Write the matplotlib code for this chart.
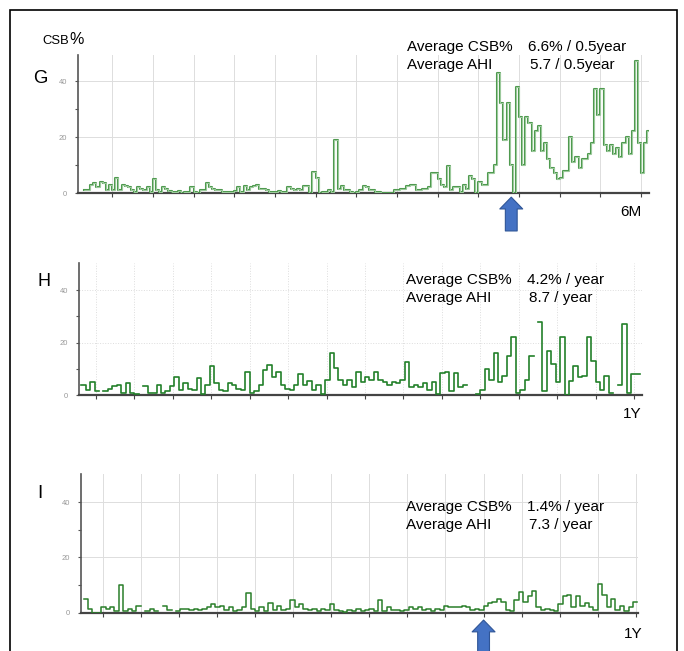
import numpy as np
import matplotlib.pyplot as plt
from matplotlib.patches import Rectangle

plt.rcParams['font.family'] = ['Liberation Sans', 'DejaVu Sans']

W, H = 684, 651
nan = np.nan

# G: daily CSB% over 6 months, first value = day 4
g_start = 4
g_csb = [1, 1, 3, 3.5, 2, 4, 3.5, 1, 3, 1,
         5.5, 1, 3, 2.5, 2, 1, 0.5, 2, 1.5, 1,
         2, 0.2, 5, 1, 0.5, 2, 1.5, 0.8, 0.5, 0.5,
         0.8, 0, 0.2, 0.2, 2, 0.3, 0, 1, 1, 3.5,
         2, 1.5, 1, 1, 0.3, 0.3, 0.3, 0.3, 0.8, 2,
         0.5, 2.5, 1, 2, 2.5, 3, 1.5, 1.5, 1, 0.5,
         0.3, 0.3, 0.8, 0.5, 0.5, 2, 1.5, 1, 1.5, 1,
         2.5, 2.5, 0, 7.5, 5.5, 0, 0.3, 0.3, 1, 0.5,
         19, 1.5, 2.5, 1, 1, 0.5, 0, 0.5, 1, 2.4,
         2, 1, 1, 0.3, 0.3, 0, 0, 0, 0, 1,
         1, 1.5, 1.5, 2.5, 3, 3, 1, 1, 1.5, 1.5,
         2, 7, 7, 5, 3, 2, 9.5, 1, 2, 2,
         0.5, 3, 1.5, 6, 5, 0, 4, 3, 3, 7,
         7, 10, 43, 32, 19, 32, 10, 0, 38, 27,
         10, 27, 25, 15, 22, 24, 15, 18, 12, 9,
         7, 5, 5.5, 8, 8, 20, 11, 13, 9, 12,
         12, 14, 18, 37, 28, 37, 17, 15, 17, 14,
         16, 13, 18, 20, 14, 22, 47, 18, 7, 18,
         22, 11]

# H: CSB% over 1 year, 3-day bins starting at day -10 (nan = no data)
h_start = -10
h_csb = [4, 2, 5, 1.5, nan, 1.5, 2.5, 3.5, 4, 1,
         4.5, 1, 0.5, nan, 3.5, 1, 1, 4, 1, 1.5,
         3.5, 7, 2, 4.5, 2.5, 2, 6.5, 0.5, 4, 11,
         4.5, 2, 1.5, 4.5, 4, 2.5, 2, 9, 1, 1.5,
         4, 9.5, 11.5, 7, 9, 4, 2.5, 2, 4, 8,
         4, 5.5, 2, 4, 0.5, 6, 16, 10.5, 6, 4,
         6, 3, 9, 5, 7, 6, 9, 6, 5, 4,
         5, 4.5, 6, 12.5, 3, 4, 3, 4.5, 2, 5,
         0.5, 8.5, 9, 1.5, 8.5, 3, 4, nan, nan, 0.5,
         2, 10, 6, 16, 5, 7.5, 15, 22, 1, 2,
         6, 15, nan, 28, 1.5, 17, 12, 5, 22, 0.3,
         5.5, 11, 7, 7.5, 22, 13, 5, 2, 7.5, 1,
         nan, 4, 27, 1, 8, 8]

# I: CSB% over 1 year, 3-day bins starting at day -13
i_start = -13
i_csb = [5, 1.5, 0, 0, 2, 1.5, 2, 0.5, 10, 0.5,
         1.5, 0.5, 2.5, nan, 0.5, 1.5, 0.5, nan, 2.5, 1,
         nan, 0.5, 1.5, 1.5, 1, 1.5, 1, 1.5, 2, 3,
         2, 2.5, 1, 2, 0.5, 1, 2, 7, 1.5, 0.5,
         2, 0.5, 3.5, 1, 2.5, 1, 1.5, 4.5, 2, 3,
         1.5, 1, 1.5, 0.5, 1.5, 1, 3, 1, 0.5, 0.3,
         1, 0.5, 1.5, 0.5, 1, 1.5, 0.5, 4.5, 0.5, 2,
         1, 1, 0.5, 1, 2, 1.5, 2, 1, 1.5, 0.5,
         1.5, 1, 2.5, 2, 2, 2, 2.5, 2, 1, 1.5,
         1, 2.5, 3.5, 4, 5, 4, 1, 0.5, 4.5, 7.5,
         4, 6, 8, 2, 1, 1.5, 1, 0.5, 3, 6,
         6.5, 2, 6, 2.5, 3.5, 2, 1, 10.5, 6.5, 2,
         5, 1, 2.5, 0.5, 2, 4]

g_ticks = np.arange(13, 183, 13)
y_ticks = [0, 20, 40]
year_ticks = np.arange(0, 365, 26)


def box(left, right, y0, top):
    return [left / W, 1 - y0 / H, (right - left) / W, (y0 - top) / H]


def style(ax, xlim, ymax, ticks, grid_ls):
    ax.set_xlim(*xlim)
    ax.set_ylim(0, ymax)
    ax.set_xticks(ticks)
    ax.set_xticklabels([])
    ax.set_yticks(y_ticks)
    ax.set_yticks([10, 30], minor=True)
    for s in ['top', 'right']:
        ax.spines[s].set_visible(False)
    ax.spines['left'].set_color('#555555')
    ax.spines['left'].set_linewidth(1.2)
    ax.spines['bottom'].set_color('#444444')
    ax.spines['bottom'].set_linewidth(1.6)
    ax.tick_params(axis='y', which='both', length=2, width=0.8, color='#555555',
                   labelsize=5.5, labelcolor='#999999', pad=6)
    ax.tick_params(axis='x', length=3, width=0.8, color='#444444')
    ax.grid(True, color='#dddddd', lw=0.7, ls=grid_ls)
    ax.set_axisbelow(True)
    ax.patch.set_alpha(0)


def draw(ax, vals, start, width, color, lw):
    v = np.array(vals, dtype=float)
    x = start + width * np.arange(len(v) + 1)
    y = np.append(v, v[-1])
    ax.step(x, y, where='post', color=color, lw=lw, zorder=3)


def txt(px, py, s, size, **kw):
    fig.text(px / W, 1 - py / H, s, fontsize=size, va='baseline', **kw)


fig = plt.figure(figsize=(6.84, 6.51), dpi=100)

# panel G
ax_g = fig.add_axes(box(78, 649, 193, 55))
style(ax_g, (2.1, 184.5), 49.3, g_ticks, '-')
draw(ax_g, g_csb, g_start, 1, '#4f9a4f', 1.5)
draw(ax_g, g_csb, g_start, 1, '#c9e6c9', 0.45)

# panel H
ax_h = fig.add_axes(box(79.3, 641.7, 395.3, 262.7))
style(ax_h, (-11.3, 369.2), 50.4, year_ticks, ':')
draw(ax_h, h_csb, h_start, 3, '#23802a', 1.2)

# panel I
ax_i = fig.add_axes(box(81, 637.7, 612.7, 474))
style(ax_i, (-14.8, 365.2), 50.2, year_ticks, '-')
draw(ax_i, i_csb, i_start, 3, '#2a7f2a', 1.1)

# blue arrows
arrow = dict(arrowstyle='simple,head_length=0.85,head_width=1.65,tail_width=0.85',
             mutation_scale=10, fc='#4472c4', ec='#2f5597', lw=0.8,
             shrinkA=0, shrinkB=0)
ax_g.annotate('', xy=(140.5, -0.03), xycoords=('data', 'axes fraction'),
              xytext=(140.5, -0.275), textcoords=('data', 'axes fraction'),
              arrowprops=arrow, annotation_clip=False)
ax_i.annotate('', xy=(260, -0.053), xycoords=('data', 'axes fraction'),
              xytext=(260, -0.35), textcoords=('data', 'axes fraction'),
              arrowprops=arrow, annotation_clip=False)

# labels
txt(42.7, 44.3, 'CSB', 9.4)
txt(69.5, 44.3, '%', 11.5)
txt(33.3, 82.7, 'G', 13.4)
txt(37.3, 286, 'H', 13)
txt(37.3, 498.3, 'I', 13.5)
txt(620, 216, '6M', 11)
txt(623.3, 417.7, '1Y', 11)
txt(624, 638.3, '1Y', 11)

txt(406.7, 51, 'Average CSB%', 11)
txt(527.7, 51, '6.6% / 0.5year', 11)
txt(406.7, 68.7, 'Average AHI', 11)
txt(530, 68.7, '5.7 / 0.5year', 11)

txt(406, 284.3, 'Average CSB%', 11)
txt(526.7, 284.3, '4.2% / year', 11)
txt(406, 302.3, 'Average AHI', 11)
txt(529, 302.3, '8.7 / year', 11)

txt(406, 511, 'Average CSB%', 11)
txt(526.7, 511, '1.4% / year', 11)
txt(406, 529, 'Average AHI', 11)
txt(529, 529, '7.3 / year', 11)

# outer frame
fig.add_artist(Rectangle((10 / W, -0.05), 667 / W, 1.05 - 10 / H, fill=False,
                         ec='black', lw=1.2, transform=fig.transFigure))

fig.savefig('out.png', dpi=100)
